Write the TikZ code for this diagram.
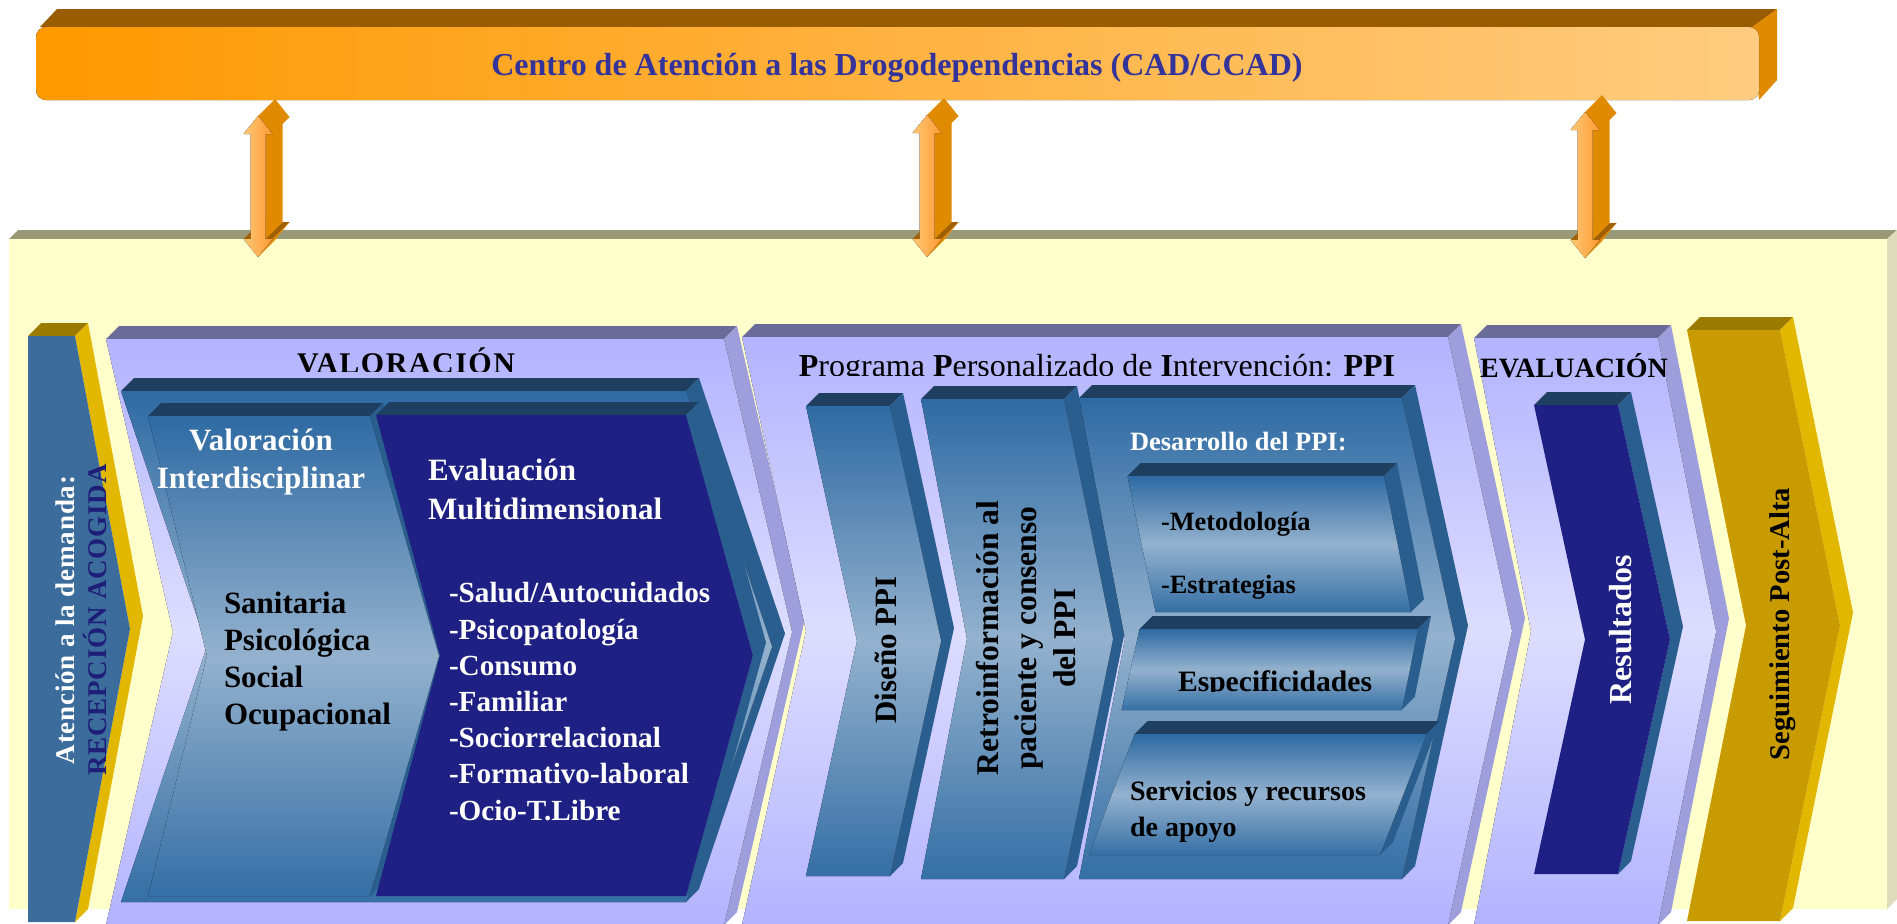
\documentclass[tikz,border=0pt]{standalone}
\usepackage{fontspec}
\setmainfont{Liberation Serif}
\usetikzlibrary{calc}

\definecolor{barA}{HTML}{FF9900}
\definecolor{barB}{HTML}{FFCC80}
\definecolor{barlid}{HTML}{995C00}
\definecolor{barrim}{HTML}{E08A00}
\definecolor{titleblue}{HTML}{333399}
\definecolor{bandface}{HTML}{FFFFCC}
\definecolor{bandlid}{HTML}{999977}
\definecolor{bandrim}{HTML}{DDDDBB}
\definecolor{lavA}{HTML}{B3B3FF}
\definecolor{lavB}{HTML}{DDDDFF}
\definecolor{lavlid}{HTML}{6B6B9A}
\definecolor{lavrim}{HTML}{9E9EDD}
\definecolor{blueA}{HTML}{2E6AA3}
\definecolor{blueB}{HTML}{94B2CE}
\definecolor{blueC}{HTML}{356FA5}
\definecolor{bluelid}{HTML}{1E3F5F}
\definecolor{bluerim}{HTML}{2A5E8E}
\definecolor{navyface}{HTML}{1F2083}
\definecolor{navytext}{HTML}{1E1E78}
\definecolor{demface}{HTML}{3B6C9C}
\definecolor{goldface}{HTML}{C89B00}
\definecolor{goldlid}{HTML}{9A7B00}
\definecolor{goldrim}{HTML}{E2B700}
\definecolor{arrA}{HTML}{FFC875}
\definecolor{arrB}{HTML}{FF9A33}
\definecolor{arrrim}{HTML}{E08A00}
\definecolor{arrlid}{HTML}{A05F00}

\tikzset{
  lav face/.style={top color=lavA,bottom color=lavA,middle color=lavB},
  lav lid/.style={fill=lavlid},
  lav rim/.style={fill=lavrim},
  blue face/.style={top color=blueA,bottom color=blueC,middle color=blueB},
  blue lid/.style={fill=bluelid},
  blue rim/.style={fill=bluerim},
  navy face/.style={fill=navyface},
  dem face/.style={fill=demface},
  gold face/.style={fill=goldface},
  gold lid/.style={fill=goldlid},
  gold rim/.style={fill=goldrim},
  arr face/.style={left color=arrA,right color=arrB},
  arr rim/.style={fill=arrrim},
  arr lid/.style={fill=arrlid}
}

\newcommand{\fsz}[2]{\fontsize{#1}{#2}\selectfont}
\newcommand{\chevdep}{13}
% L, R, top, bottom, tip x, notch x, face, lid, rim
\newcommand{\drawchev}[9]{%
  \fill[#8] (#1,#3) -- ++(\chevdep,-\chevdep) -- ({#2+\chevdep},{#3-\chevdep}) -- (#2,#3) -- cycle;
  \fill[#9] (#2,#3) -- ++(\chevdep,-\chevdep) -- ({#5+\chevdep},{(#3+#4)/2-\chevdep})
    -- ({#2+\chevdep},{#4-\chevdep}) -- (#2,#4) -- (#5,{(#3+#4)/2}) -- cycle;
  \fill[#7] (#1,#3) -- (#2,#3) -- (#5,{(#3+#4)/2}) -- (#2,#4) -- (#1,#4) -- (#6,{(#3+#4)/2}) -- cycle;
}
% top left, top right, bottom right, bottom left, top, bottom
\newcommand{\drawslab}[6]{%
  \fill[blue lid] (#1,#5) -- ++(\chevdep,-\chevdep) -- ({#2+\chevdep},{#5-\chevdep}) -- (#2,#5) -- cycle;
  \fill[blue rim] (#2,#5) -- ++(\chevdep,-\chevdep) -- ({#3+\chevdep},{#6-\chevdep}) -- (#3,#6) -- cycle;
  \fill[blue face] (#1,#5) -- (#2,#5) -- (#3,#6) -- (#4,#6) -- cycle;
}
% 3d double arrow between two named tips
\newcommand{\drawdbl}[2]{%
  \fill[arr lid] ($(#2)+(-14.5,-18)$) -- ($(#2)+(-7.5,-18)$) -- ($(#2)+(9.5,-35)$) -- ($(#2)+(2.5,-35)$) -- cycle;
  \fill[arr lid] ($(#2)+(7.5,-18)$) -- ($(#2)+(14.5,-18)$) -- ($(#2)+(31.5,-35)$) -- ($(#2)+(24.5,-35)$) -- cycle;
  \fill[arr rim] ($(#1)+(7.5,18)$) -- ($(#2)+(7.5,-18)$) -- ($(#2)+(24.5,-35)$) -- ($(#1)+(24.5,1)$) -- cycle;
  \fill[arr rim] ($(#2)+(14.5,-18)$) -- (#2) -- ($(#2)+(17,-17)$) -- ($(#2)+(31.5,-35)$) -- cycle;
  \fill[arr rim] (#1) -- ($(#1)+(14.5,18)$) -- ($(#1)+(31.5,1)$) -- ($(#1)+(17,-17)$) -- cycle;
  \fill[arr face] (#1) -- ($(#1)+(14.5,18)$) -- ($(#1)+(7.5,18)$) -- ($(#2)+(7.5,-18)$)
    -- ($(#2)+(14.5,-18)$) -- (#2) -- ($(#2)+(-14.5,-18)$) -- ($(#2)+(-7.5,-18)$)
    -- ($(#1)+(-7.5,18)$) -- ($(#1)+(-14.5,18)$) -- cycle;
}

\begin{document}
\begin{tikzpicture}[x=0.5pt,y=-0.5pt, every node/.style={inner sep=0,outer sep=0}]
\useasboundingbox (0,0) rectangle (1897,923);
\clip (0,0) rectangle (1897,923);

%top bar
\fill[barlid] (40,27) -- (57,9) -- (1777,9) -- (1759,27) -- cycle;
\fill[barrim] (1752,27) -- (1777,9) -- (1777,80) -- (1759,100) -- cycle;
\fill[rounded corners=5pt, left color=barA, right color=barB] (36,27) rectangle (1759,100);
\node[font=\bfseries\fsz{16}{18}, text=titleblue, anchor=base] (cad) at (897,75)
  {Centro de Atención a las Drogodependencias (CAD/CCAD)};

%yellow band
\fill[bandlid] (9,239) -- (18,230) -- (1897,230) -- (1887,239) -- cycle;
\fill[bandrim] (1887,239) -- (1897,230) -- (1897,899) -- (1887,909) -- cycle;
\fill[bandface] (9,239) rectangle (1887,909);

%double arrows
\coordinate (up1) at (258,116);
\coordinate (dn1) at (258,257);
\coordinate (up2) at (927,115);
\coordinate (dn2) at (927,257);
\coordinate (up3) at (1585,112);
\coordinate (dn3) at (1585,258);
\drawdbl{up1}{dn1}
\drawdbl{up2}{dn2}
\drawdbl{up3}{dn3}

%reception
\drawchev{28}{75}{336}{922}{130}{28}{dem face}{gold lid}{gold rim}
\node[rotate=90, font=\bfseries\fsz{13.5}{16}\addfontfeatures{LetterSpace=3}, align=center] (acogida) at (81,620)
  {\textcolor{white}{Atención a la demanda:}\\\textcolor{navytext}{RECEPCIÓN ACOGIDA}};

%valoracion
\drawchev{106}{724}{339}{925}{792}{173}{lav face}{lav lid}{lav rim}
\begin{scope}
  \clip (100,320) rectangle (730,371);
  \node[font=\bfseries\fsz{15}{18}\addfontfeatures{LetterSpace=5}, anchor=base] (valor) at (406,373) {VALORACIÓN};
\end{scope}
\drawchev{121}{686}{391}{902}{772}{207}{blue face}{blue lid}{blue rim}
\drawchev{148}{370}{416}{896}{439}{207}{blue face}{blue lid}{blue rim}
\drawchev{376}{686}{415}{896}{753}{440}{navy face}{blue lid}{blue rim}

\node[font=\bfseries\fsz{15.5}{19}, text=white, align=center, anchor=base] (interd) at (261,488)
  {Valoración\\Interdisciplinar};
\node[font=\bfseries\fsz{15.5}{18.5}, align=left, anchor=base west] (areas) at (224,724)
  {Sanitaria\\Psicológica\\Social\\Ocupacional};
\node[font=\bfseries\fsz{15.5}{19.2}, text=white, align=left, anchor=base west] (multi) at (428,519)
  {Evaluación\\Multidimensional};
\node[font=\bfseries\fsz{14.6}{18.1}, text=white, align=left, anchor=base west] (dims) at (449,820)
  {-Salud/Autocuidados\\-Psicopatología\\-Consumo\\-Familiar\\-Sociorrelacional\\-Formativo-laboral\\-Ocio-T.Libre};

%ppi
\drawchev{742}{1448}{337}{925}{1512}{806}{lav face}{lav lid}{lav rim}
\begin{scope}
  \clip (742,320) rectangle (1450,375.5);
  \node[font=\fsz{16}{19}, anchor=base] (ppi) at (1097,376)
    {\textbf{P}rograma \textbf{P}ersonalizado de \textbf{I}ntervención: \textbf{PPI}};
\end{scope}
\drawchev{806}{890}{406}{876}{941}{857}{blue face}{blue lid}{blue rim}
\drawchev{921}{1064}{399}{879}{1113}{967}{blue face}{blue lid}{blue rim}
\drawchev{1079}{1402}{398}{879}{1455}{1125}{blue face}{blue lid}{blue rim}
\drawslab{1127.5}{1384}{1411}{1155.6}{476}{612}
\drawslab{1139.6}{1418}{1401.7}{1121.6}{629}{710}
\drawslab{1134.7}{1426.7}{1380}{1089}{734}{855}

\node[rotate=90, font=\bfseries\fsz{15.5}{19}] (diseno) at (886,650) {Diseño PPI};
\node[rotate=90, font=\bfseries\fsz{15.8}{19.4}, align=center] (retro) at (1026,638)
  {Retroinformación al\\paciente y consenso\\del PPI};
\node[font=\bfseries\fsz{13.2}{16}, text=white, anchor=base west] (desarr) at (1130,450) {Desarrollo del PPI:};
\node[font=\bfseries\fsz{13.2}{16}, anchor=base west] (metod) at (1161,530) {-Metodología};
\node[font=\bfseries\fsz{13.2}{16}, anchor=base west] (estrat) at (1161,593) {-Estrategias};
\begin{scope}
  \clip (1121,629) rectangle (1418,691.5);
  \node[font=\bfseries\fsz{14.8}{18}, anchor=base west] (especif) at (1178,691) {Especificidades};
\end{scope}
\node[font=\bfseries\fsz{14}{17.6}, align=left, anchor=base west] (servic) at (1130,836)
  {Servicios y recursos\\de apoyo};

%evaluacion
\drawchev{1474}{1658}{338}{925}{1716}{1531}{lav face}{lav lid}{lav rim}
\node[font=\bfseries\fsz{14}{17}, anchor=base] (evalu) at (1574,377.5) {EVALUACIÓN};
\drawchev{1534}{1618}{405}{874}{1670}{1585}{navy face}{blue lid}{blue rim}
\node[rotate=90, font=\bfseries\fsz{16}{19}, text=white] (result) at (1621,630) {Resultados};

%post-alta
\drawchev{1687}{1780}{330}{921}{1840}{1746}{gold face}{gold lid}{gold rim}
\node[rotate=90, font=\bfseries\fsz{14.3}{17}] (postalta) at (1783,624) {Seguimiento Post-Alta};

\end{tikzpicture}
\end{document}
